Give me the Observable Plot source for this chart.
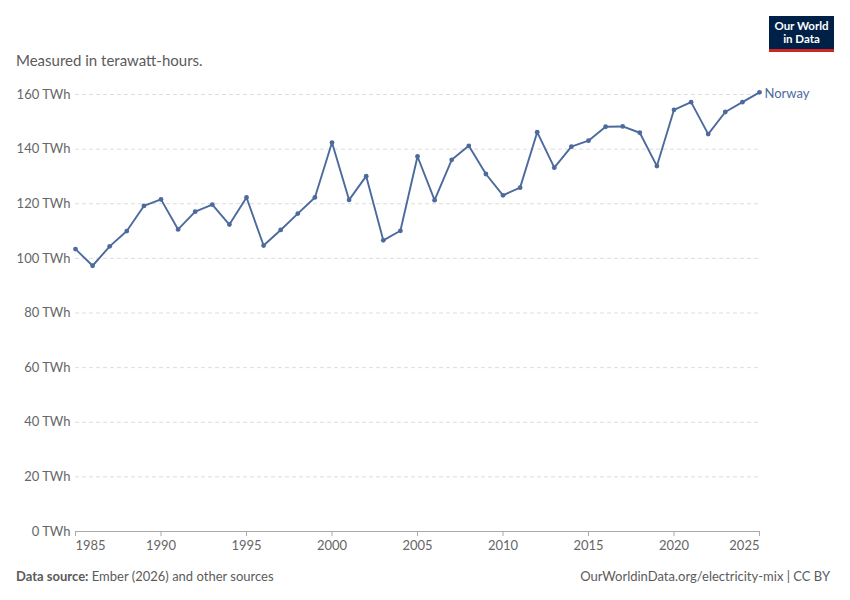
<!DOCTYPE html>
<html>
<head>
<meta charset="utf-8">
<script src="https://cdn.jsdelivr.net/npm/d3@7"></script>
<script src="https://cdn.jsdelivr.net/npm/@observablehq/plot@0.6"></script>
<style>
  html, body { margin: 0; padding: 0; background: #fff; }
  body { width: 850px; height: 600px; position: relative; overflow: hidden; font-family: Lato, "Noto Sans", sans-serif; }
  #subtitle { position: absolute; left: 16px; top: 51px; font-size: 15px; color: #5b5b5b; }
  #logo { position: absolute; left: 769px; top: 16px; width: 65px; height: 33px; background: #002147; border-bottom: 3px solid #ce261e; color: #fff; font-weight: 700; font-size: 11.5px; text-align: center; }
  #logo div { position: absolute; left: 0; width: 65px; line-height: 12px; }
  #chart { position: absolute; left: 0; top: 80px; }
  #source { position: absolute; left: 16px; top: 568px; font-size: 13px; color: #5b5b5b; }
  #source b { font-weight: 700; }
  #url { position: absolute; right: 20px; top: 568px; font-size: 13px; color: #5b5b5b; }
</style>
</head>
<body>
<div id="subtitle">Measured in terawatt-hours.</div>
<div id="logo"><div style="top:4px">Our World</div><div style="top:17px">in Data</div></div>
<div id="chart"></div>
<div id="source"><b>Data source:</b> Ember (2026) and other sources</div>
<div id="url">OurWorldinData.org/electricity-mix | CC BY</div>
<script>
const years = [1985,1986,1987,1988,1989,1990,1991,1992,1993,1994,1995,1996,1997,1998,1999,2000,2001,2002,2003,2004,2005,2006,2007,2008,2009,2010,2011,2012,2013,2014,2015,2016,2017,2018,2019,2020,2021,2022,2023,2024,2025];
const values = [103.4,97.3,104.4,110.0,119.2,121.6,110.6,117.1,119.7,112.4,122.3,104.7,110.4,116.4,122.3,142.4,121.4,130.1,106.6,110.1,137.3,121.3,136.1,141.2,130.9,123.1,125.9,146.2,133.2,140.9,143.1,148.2,148.3,146.0,133.8,154.4,157.2,145.5,153.6,157.2,160.8];
const yTicks = [0,20,40,60,80,100,120,140,160];
const xTicksMid = [1990,1995,2000,2005,2010,2015,2020];
const seriesName = "Norway";

const data = years.map((y, i) => ({year: y, value: values[i]}));
const color = "#4C6A9C";

const chart = Plot.plot({
  width: 850,
  height: 482,
  marginTop: 14,
  marginBottom: 31,
  marginLeft: 75,
  marginRight: 91,
  x: {domain: [1985, 2025]},
  y: {domain: [0, 160]},
  style: {fontFamily: "Lato, 'Noto Sans', sans-serif", fontSize: "13px", color: "#666", background: "white"},
  marks: [
    Plot.gridY(yTicks.filter(d => d > 0), {stroke: "#ddd", strokeOpacity: 1, strokeDasharray: "4,3"}),
    Plot.axisY({ticks: yTicks, tickSize: 0, tickPadding: 5, tickFormat: d => d + " TWh", label: null, fill: "#666"}),
    Plot.ruleY([0], {stroke: "#aaa"}),
    Plot.axisX({ticks: xTicksMid, tickFormat: d => String(d), tickSize: 5, tickPadding: 4, label: null, stroke: "#aaa", fill: "#666"}),
    Plot.axisX({ticks: [years[0]], tickFormat: d => String(d), tickSize: 5, tickPadding: 4, label: null, stroke: "#aaa", fill: "#666", textAnchor: "start"}),
    Plot.axisX({ticks: [years[years.length - 1]], tickFormat: d => String(d), tickSize: 5, tickPadding: 4, label: null, stroke: "#aaa", fill: "#666", textAnchor: "end"}),
    Plot.line(data, {x: "year", y: "value", stroke: color, strokeWidth: 1.9}),
    Plot.dot(data, {x: "year", y: "value", r: 2.4, fill: color}),
    Plot.text([data[data.length - 1]], {x: "year", y: "value", text: () => seriesName, dx: 5, dy: 2, textAnchor: "start", fill: color, fontSize: 13})
  ]
});
document.getElementById("chart").appendChild(chart);
</script>
</body>
</html>
